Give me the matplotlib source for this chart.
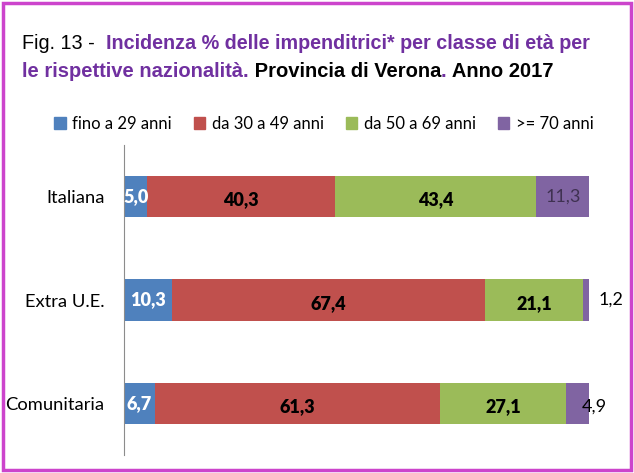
import matplotlib.pyplot as plt
from matplotlib.patches import Rectangle, Patch

categories = ["Italiana", "Extra U.E.", "Comunitaria"]
series_names = ["fino a 29 anni", "da 30 a 49 anni", "da 50 a 69 anni", ">= 70 anni"]
fino_29 = [5.0, 10.3, 6.7]
da_30_49 = [40.3, 67.4, 61.3]
da_50_69 = [43.4, 21.1, 27.1]
oltre_70 = [11.3, 1.2, 4.9]

colors = ["#4F81BD", "#C0504D", "#9BBB59", "#8064A2"]
purple_t = "#7030A0"
W, H = 634, 473

plt.rcParams["font.family"] = ["Lato", "DejaVu Sans"]

fig = plt.figure(figsize=(W / 100, H / 100), dpi=100)
ax = fig.add_axes([124 / W, 1 - 455 / H, 465 / W, 310 / H])

series = [fino_29, da_30_49, da_50_69, oltre_70]
ypos = list(range(len(categories)))
left = [0, 0, 0]
for i, vals in enumerate(series):
    bars = ax.barh(ypos, vals, left=left, height=0.4, color=colors[i], label=series_names[i])
    for j, (b, v) in enumerate(zip(bars, vals)):
        txt = f"{v:.1f}".replace(".", ",")
        cx = left[j] + v / 2
        if i == 0:
            ax.text(cx, j, txt, ha="center", va="center", color="white",
                    fontweight="heavy", fontsize=13)
        elif i in (1, 2):
            ax.text(cx, j + 0.03, txt, ha="center", va="center", color="black",
                    fontweight="heavy", fontsize=13)
        else:
            if v < 3:
                ax.text(100 + 2, j, txt, ha="left", va="center", color="black", fontsize=13)
            elif v < 6:
                ax.text(cx + 3.6, j + 0.03, txt, ha="center", va="center", color="black", fontsize=13)
            else:
                ax.text(cx, j, txt, ha="center", va="center", color="#3F3151", fontsize=13)
    left = [l + v for l, v in zip(left, vals)]

ax.set_xlim(0, 100)
ax.set_ylim(2.5, -0.5)
ax.set_yticks(ypos)
ax.set_yticklabels(categories, fontsize=13.2)
ax.set_xticks([])
ax.tick_params(axis="y", length=0, pad=14)
for s in ["top", "right", "bottom"]:
    ax.spines[s].set_visible(False)
ax.spines["left"].set_color("#8C8C8C")
ax.spines["left"].set_linewidth(0.8)

handles = [Patch(color=c) for c in colors]
fig.legend(handles, series_names, loc="center", bbox_to_anchor=(324 / W, 1 - 124 / H),
           ncol=4, frameon=False, fontsize=12, handlelength=0.7, handleheight=0.7,
           handletextpad=0.4, columnspacing=1.3)

# title built from coloured pieces
renderer = fig.canvas.get_renderer()
title_font = ["Liberation Sans", "DejaVu Sans"]


def draw_pieces(x, y, pieces, target):
    texts = []
    for text, color, weight in pieces:
        t = fig.text(0, 0, text, color=color, fontweight=weight, fontsize=16,
                     family=title_font, va="baseline", ha="left")
        texts.append(t)
    total = sum(t.get_window_extent(renderer=renderer).width for t in texts)
    size = 16 * target / total
    for t in texts:
        t.set_fontsize(size)
        t.set_position((x / W, 1 - y / H))
        x += t.get_window_extent(renderer=renderer).width


draw_pieces(22, 49, [("Fig. 13 -  ", "black", "normal"),
                     ("Incidenza % delle impenditrici* per classe di età per", purple_t, "bold")], 568)
draw_pieces(22, 77, [("le rispettive nazionalità.", purple_t, "bold"),
                     (" Provincia di Verona", "black", "bold"),
                     (".", purple_t, "bold"),
                     (" Anno 2017", "black", "bold")], 531)

fig.patches.append(Rectangle((3 / W, 3 / H), 628 / W, 467 / H, transform=fig.transFigure,
                             fill=False, edgecolor="#CC44CC", linewidth=2.5))

fig.savefig("out.png", dpi=100)
